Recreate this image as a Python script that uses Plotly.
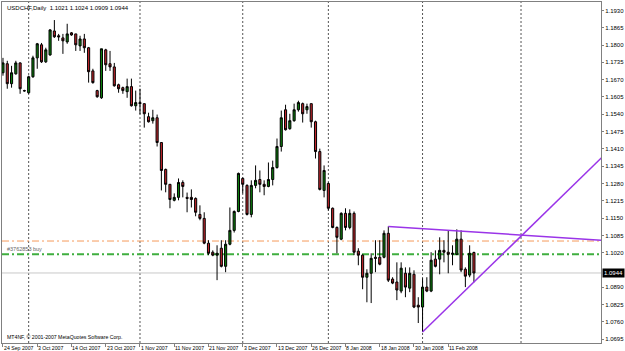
import plotly.graph_objects as go

# ---- data ----
opens = [
1.1696, 1.1730, 1.1655, 1.1692, 1.1733, 1.1629, 1.1621, 1.1681, 1.1752, 1.1801,
1.1737, 1.1763, 1.1853, 1.1835, 1.1827, 1.1812, 1.1846, 1.1842, 1.1797, 1.1823,
1.1790, 1.1703, 1.1629, 1.1602, 1.1782, 1.1730, 1.1718, 1.1651, 1.1640, 1.1625,
1.1644, 1.1572, 1.1584, 1.1580, 1.1531, 1.1516, 1.1527, 1.1434, 1.1333, 1.1277,
1.1217, 1.1228, 1.1284, 1.1228, 1.1228, 1.1224, 1.1164, 1.1149, 1.1056, 1.1022,
1.1011, 1.1037, 1.0969, 1.1052, 1.1104, 1.1175, 1.1299, 1.1273, 1.1164, 1.1273,
1.1295, 1.1277, 1.1269, 1.1295, 1.1340, 1.1419, 1.1557, 1.1486, 1.1516, 1.1557,
1.1580, 1.1557, 1.1580, 1.1512, 1.1400, 1.1254, 1.1280, 1.1187, 1.1115, 1.1071,
1.1168, 1.1115, 1.1168, 1.1026, 1.1011, 1.0928, 1.0943, 1.1003, 1.1003, 1.1003,
1.1093, 1.0921, 1.0910, 1.0876, 1.0943, 1.0887, 1.0939, 1.0823, 1.0816, 1.0891,
1.0876, 1.0996, 1.0996, 1.1029, 1.1022, 1.1014, 1.1014, 1.1071, 1.0958, 1.0936,
1.1021]

highs = [
1.1752, 1.1741, 1.1722, 1.1741, 1.1735, 1.1632, 1.1685, 1.1760, 1.1808, 1.1808,
1.1790, 1.1860, 1.1894, 1.1842, 1.1842, 1.1880, 1.1849, 1.1842, 1.1835, 1.1842,
1.1793, 1.1711, 1.1632, 1.1786, 1.1786, 1.1778, 1.1733, 1.1655, 1.1644, 1.1674,
1.1674, 1.1629, 1.1636, 1.1580, 1.1546, 1.1557, 1.1539, 1.1434, 1.1336, 1.1277,
1.1243, 1.1299, 1.1292, 1.1246, 1.1258, 1.1228, 1.1198, 1.1172, 1.1067, 1.1029,
1.1048, 1.1067, 1.1067, 1.1190, 1.1179, 1.1321, 1.1303, 1.1277, 1.1292, 1.1348,
1.1329, 1.1292, 1.1359, 1.1366, 1.1449, 1.1554, 1.1576, 1.1542, 1.1580, 1.1591,
1.1584, 1.1580, 1.1580, 1.1516, 1.1411, 1.1348, 1.1284, 1.1190, 1.1119, 1.1172,
1.1187, 1.1183, 1.1175, 1.1037, 1.1014, 1.0958, 1.1018, 1.1067, 1.1067, 1.1104,
1.1119, 1.0928, 1.0984, 1.0984, 1.0965, 1.0965, 1.0954, 1.0853, 1.0924, 1.0928,
1.1022, 1.1029, 1.1078, 1.1067, 1.1104, 1.1048, 1.1108, 1.1104, 1.0965, 1.1048,
1.1024]

lows = [
1.1685, 1.1636, 1.1640, 1.1689, 1.1617, 1.1625, 1.1617, 1.1677, 1.1711, 1.1733,
1.1733, 1.1760, 1.1827, 1.1816, 1.1767, 1.1805, 1.1835, 1.1778, 1.1778, 1.1771,
1.1659, 1.1655, 1.1602, 1.1598, 1.1703, 1.1703, 1.1644, 1.1621, 1.1617, 1.1602,
1.1569, 1.1554, 1.1540, 1.1490, 1.1509, 1.1505, 1.1419, 1.1254, 1.1247, 1.1187,
1.1213, 1.1217, 1.1228, 1.1172, 1.1190, 1.1157, 1.1142, 1.1052, 1.1011, 1.1007,
1.0917, 1.0965, 1.0947, 1.1048, 1.1096, 1.1172, 1.1243, 1.1160, 1.1153, 1.1262,
1.1247, 1.1236, 1.1266, 1.1273, 1.1336, 1.1400, 1.1479, 1.1482, 1.1512, 1.1550,
1.1509, 1.1542, 1.1490, 1.1374, 1.1254, 1.1228, 1.1179, 1.1112, 1.1018, 1.1067,
1.1104, 1.1108, 1.1011, 1.0973, 1.0883, 1.0834, 1.0831, 1.0947, 1.0973, 1.0999,
1.0910, 1.0902, 1.0842, 1.0868, 1.0853, 1.0872, 1.0812, 1.0756, 1.0722, 1.0872,
1.0872, 1.0965, 1.0939, 1.0984, 1.0943, 1.0973, 1.1011, 1.0947, 1.0891, 1.0928,
1.0909]

closes = [
1.1733, 1.1655, 1.1696, 1.1733, 1.1636, 1.1628, 1.1681, 1.1752, 1.1805, 1.1737,
1.1782, 1.1857, 1.1831, 1.1831, 1.1816, 1.1842, 1.1838, 1.1801, 1.1823, 1.1790,
1.1700, 1.1659, 1.1606, 1.1786, 1.1726, 1.1718, 1.1647, 1.1636, 1.1629, 1.1644,
1.1572, 1.1584, 1.1580, 1.1542, 1.1512, 1.1527, 1.1434, 1.1329, 1.1277, 1.1220,
1.1228, 1.1284, 1.1269, 1.1224, 1.1220, 1.1172, 1.1149, 1.1056, 1.1018, 1.1011,
1.1018, 1.0969, 1.1052, 1.1104, 1.1175, 1.1318, 1.1277, 1.1164, 1.1273, 1.1292,
1.1277, 1.1269, 1.1295, 1.1340, 1.1419, 1.1527, 1.1482, 1.1516, 1.1557, 1.1584,
1.1542, 1.1569, 1.1512, 1.1400, 1.1258, 1.1329, 1.1187, 1.1115, 1.1078, 1.1168,
1.1115, 1.1168, 1.1022, 1.1011, 1.0928, 1.0943, 1.0999, 1.0999, 1.0977, 1.1093,
1.0917, 1.0906, 1.0880, 1.0962, 1.0891, 1.0943, 1.0816, 1.0816, 1.0891, 1.0876,
1.0992, 1.0969, 1.1029, 1.1022, 1.1014, 1.1018, 1.1071, 1.0955, 1.0932, 1.1018,
1.0944]

bars = list(range(len(opens)))

date_labels = ["24 Sep 2007", "3 Oct 2007", "14 Oct 2007", "23 Oct 2007", "1 Nov 2007",
               "11 Nov 2007", "21 Nov 2007", "3 Dec 2007", "13 Dec 2007", "26 Dec 2007",
               "8 Jan 2008", "18 Jan 2008", "30 Jan 2008", "11 Feb 2008"]
date_label_bars = [0, 8, 16, 24, 32, 40, 48, 56, 64, 72, 80, 88, 96, 104]
month_start_bars = [6, 32, 56, 76, 98, 121]

price_ticks = [1.1930, 1.1865, 1.1800, 1.1735, 1.1670, 1.1605, 1.1540, 1.1475, 1.1410,
               1.1345, 1.1280, 1.1215, 1.1150, 1.1085, 1.1020, 1.0890, 1.0825, 1.0760, 1.0695]

bid_price = 1.0944
order_open_price = 1.1014
order_level_price = 1.1064
order_label = "#3762853 buy"

trend_down_x = [90, 140]
trend_down_y = [1.1119, 1.1067]
trend_up_x = [98, 140]
trend_up_y = [1.0722, 1.1380]

title_text = "USDCHF,Daily  1.1021 1.1024 1.0909 1.0944"
copyright_text = "MT4NF, \u00a9 2001-2007 MetaQuotes Software Corp."

FONT = "Liberation Sans, Arial, sans-serif"

fig = go.Figure()

fig.add_trace(go.Candlestick(
    x=bars, open=opens, high=highs, low=lows, close=closes,
    increasing=dict(fillcolor="#0c7c0c", line=dict(color="#000000", width=1)),
    decreasing=dict(fillcolor="#c0262c", line=dict(color="#000000", width=1)),
    whiskerwidth=0, hoverinfo="skip", showlegend=False,
))

for tx, ty in ((trend_down_x, trend_down_y), (trend_up_x, trend_up_y)):
    fig.add_trace(go.Scatter(x=tx, y=ty, mode="lines",
                             line=dict(color="#9a34e8", width=1.5),
                             hoverinfo="skip", showlegend=False, cliponaxis=True))

shapes = []
for b in month_start_bars:
    shapes.append(dict(type="line", xref="x", yref="paper", x0=b, x1=b, y0=0, y1=1,
                       line=dict(color="#555555", width=1, dash="2px,2px"), layer="below"))
shapes.append(dict(type="line", xref="paper", yref="y", x0=0, x1=1,
                   y0=bid_price, y1=bid_price, line=dict(color="#c8c8c8", width=1), layer="below"))
shapes.append(dict(type="line", xref="paper", yref="y", x0=0, x1=1,
                   y0=order_level_price, y1=order_level_price,
                   line=dict(color="#f59a5c", width=1, dash="7px,3px,2px,3px"), layer="below"))
shapes.append(dict(type="line", xref="paper", yref="y", x0=0, x1=1,
                   y0=order_open_price, y1=order_open_price,
                   line=dict(color="#3fae3f", width=2, dash="7px,3px,2px,3px"), layer="below"))

annotations = []
for lbl, b in zip(date_labels, date_label_bars):
    annotations.append(dict(text=lbl, x=b, xref="x", y=0, yref="paper",
                            xanchor="left", yanchor="top", yshift=0, xshift=-1,
                            showarrow=False, font=dict(family=FONT, size=5.2, color="#000000")))
annotations.append(dict(text=title_text, x=0, xref="paper", y=1, yref="paper",
                        xanchor="left", yanchor="top", xshift=3, yshift=-1, showarrow=False,
                        font=dict(family=FONT, size=6, color="#000000")))
annotations.append(dict(text=copyright_text, x=0, xref="paper", y=0, yref="paper",
                        xanchor="left", yanchor="bottom", xshift=3, yshift=1, showarrow=False,
                        font=dict(family=FONT, size=5.2, color="#000000")))
annotations.append(dict(text=order_label, x=0, xref="paper", y=order_open_price, yref="y",
                        xanchor="left", yanchor="bottom", xshift=3, yshift=0, showarrow=False,
                        font=dict(family=FONT, size=5.5, color="#666666")))
annotations.append(dict(text="%.4f" % bid_price, x=1, xref="paper", y=bid_price, yref="y",
                        xanchor="left", yanchor="middle", xshift=1, showarrow=False,
                        bgcolor="#000000", borderpad=1,
                        font=dict(family=FONT, size=6, color="#ffffff")))

fig.update_layout(
    width=625, height=351,
    margin=dict(l=1, r=21, t=1, b=8),
    paper_bgcolor="#ffffff", plot_bgcolor="#ffffff",
    showlegend=False,
    shapes=shapes, annotations=annotations,
    xaxis=dict(range=[-0.23, 139.68], rangeslider=dict(visible=False),
               showgrid=False, zeroline=False, showline=True, mirror=True,
               linecolor="#808080", linewidth=1,
               ticks="outside", ticklen=3, tickcolor="#808080",
               tickvals=date_label_bars, showticklabels=False, fixedrange=True),
    yaxis=dict(range=[1.0681, 1.19618], side="right",
               showgrid=False, zeroline=False, showline=True, mirror=True,
               linecolor="#808080", linewidth=1,
               ticks="outside", ticklen=2, tickcolor="#808080",
               tickvals=price_ticks, ticktext=["%.4f" % v for v in price_ticks],
               tickfont=dict(family=FONT, size=6, color="#000000"), fixedrange=True),
)

fig.write_html("out.html")
